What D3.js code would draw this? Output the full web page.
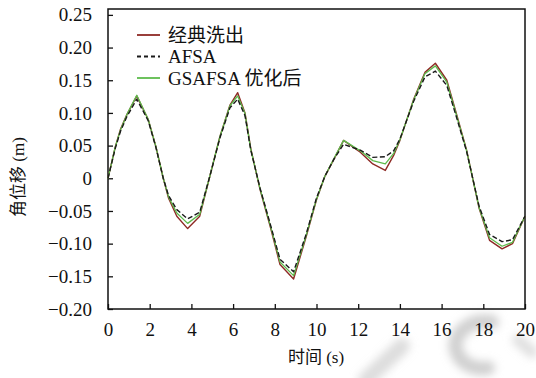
<!DOCTYPE html>
<html>
<head>
<meta charset="utf-8">
<script src="https://cdn.jsdelivr.net/npm/d3@7"></script>
<style>
  html, body { margin: 0; padding: 0; background: #fff; }
  svg { display: block; }
</style>
</head>
<body>
<svg id="chart" width="536" height="378"></svg>
<script>
// Sample times (s)
const time = [0, 0.35, 0.6, 0.9, 1.38, 1.93, 2.3, 2.65, 2.9, 3.3, 3.82, 4.4, 4.9, 5.37, 5.85, 6.22, 6.57, 6.85, 7.3, 7.8, 8.25, 8.9, 9.5, 10.0, 10.4, 10.85, 11.3, 12.1, 12.7, 13.3, 13.7, 14.0, 14.65, 15.2, 15.7, 16.25, 16.7, 17.2, 17.8, 18.3, 18.9, 19.4, 20];

// Angular displacement (m) for each washout algorithm
const classic = [0, 0.048, 0.075, 0.097, 0.126, 0.090, 0.048, 0.000, -0.030, -0.058, -0.077, -0.058, 0.005, 0.064, 0.112, 0.131, 0.100, 0.045, -0.018, -0.076, -0.132, -0.154, -0.090, -0.033, 0.003, 0.030, 0.058, 0.040, 0.022, 0.012, 0.035, 0.058, 0.120, 0.162, 0.176, 0.150, 0.100, 0.043, -0.046, -0.095, -0.108, -0.100, -0.058];
const afsa    = [0, 0.046, 0.072, 0.094, 0.121, 0.088, 0.047, 0.000, -0.026, -0.048, -0.062, -0.052, 0.005, 0.062, 0.108, 0.121, 0.096, 0.043, -0.016, -0.072, -0.124, -0.143, -0.086, -0.030, 0.003, 0.030, 0.052, 0.043, 0.032, 0.033, 0.042, 0.060, 0.117, 0.155, 0.164, 0.142, 0.095, 0.041, -0.043, -0.086, -0.097, -0.094, -0.058];
const gsafsa  = [0, 0.048, 0.074, 0.097, 0.127, 0.090, 0.048, 0.000, -0.028, -0.053, -0.069, -0.055, 0.005, 0.064, 0.111, 0.126, 0.099, 0.044, -0.017, -0.074, -0.128, -0.149, -0.088, -0.032, 0.003, 0.031, 0.058, 0.042, 0.027, 0.022, 0.038, 0.059, 0.119, 0.160, 0.172, 0.147, 0.098, 0.042, -0.045, -0.091, -0.104, -0.098, -0.058];

const seriesNames = ["经典洗出", "AFSA", "GSAFSA 优化后"];
const xTicks = [0, 2, 4, 6, 8, 10, 12, 14, 16, 18, 20];
const yTicks = [-0.20, -0.15, -0.10, -0.05, 0, 0.05, 0.10, 0.15, 0.20, 0.25];

const LATIN = "Times New Roman";
const CJK = "Noto Sans CJK SC";

// Fill a text node with runs: CJK characters in the CJK face, the rest in the serif face
function mixedText(sel, str) {
  const runs = str.match(/[\u3400-\u9fff]+|[^\u3400-\u9fff]+/g) || [];
  runs.forEach(r => {
    const isCjk = /[\u3400-\u9fff]/.test(r);
    sel.append("tspan").style("font-family", isCjk ? CJK : LATIN).text(r);
  });
  return sel;
}

const svg = d3.select("#chart");
const plot = { left: 108, right: 525, top: 9, bottom: 309 };

// Soft background watermark strokes in the lower right corner
const defs = svg.append("defs");
defs.append("filter").attr("id", "soft")
  .attr("x", "-50%").attr("y", "-50%").attr("width", "200%").attr("height", "200%")
  .append("feGaussianBlur").attr("stdDeviation", 4);
const wm = svg.append("g").attr("filter", "url(#soft)").attr("fill", "none")
  .attr("stroke-linecap", "round");
wm.append("path").attr("d", "M366,380 L402,346").attr("stroke", "#cfcfcf").attr("stroke-width", 16).attr("opacity", 0.7);
wm.append("path").attr("d", "M492,322 C470,318 452,334 456,350 C460,364 474,370 488,368")
  .attr("stroke", "#c4c4c4").attr("stroke-width", 14).attr("opacity", 0.8);
wm.append("path").attr("d", "M518,340 L532,352").attr("stroke", "#d2d2d2").attr("stroke-width", 12).attr("opacity", 0.7);

const x = d3.scaleLinear().domain([0, 20]).range([plot.left, plot.right]);
const y = d3.scaleLinear().domain([-0.2, 0.259]).range([plot.bottom, plot.top]);

// Axes with inward ticks
const fmtY = v => (Math.abs(v) < 1e-9 ? "0" : d3.format(".2f")(v));
const yAxis = svg.append("g").attr("transform", `translate(${plot.left},0)`)
  .call(d3.axisLeft(y).tickValues(yTicks).tickSize(-5).tickPadding(16).tickFormat(fmtY));
const xAxis = svg.append("g").attr("transform", `translate(0,${plot.bottom})`)
  .call(d3.axisBottom(x).tickValues(xTicks).tickSize(-5).tickPadding(14).tickFormat(d3.format("d")));
[yAxis, xAxis].forEach(a => {
  a.attr("font-family", null).attr("font-size", null);
  a.select(".domain").remove();
  a.selectAll(".tick line").attr("stroke", "#111").attr("stroke-width", 1.3);
  a.selectAll("text").attr("fill", "#111")
    .style("font-family", LATIN).style("font-size", "19px");
});

// Frame around plotting area
svg.append("rect")
  .attr("x", plot.left).attr("y", plot.top)
  .attr("width", plot.right - plot.left).attr("height", plot.bottom - plot.top)
  .attr("fill", "none").attr("stroke", "#111").attr("stroke-width", 1.5);

// Series lines
const line = d3.line().x((d, i) => x(time[i])).y(d => y(d)).curve(d3.curveLinear);
const series = [
  { name: seriesNames[0], values: classic, color: "#8e2a25", dash: null, width: 1.4 },
  { name: seriesNames[1], values: afsa,    color: "#1a1a1a", dash: "5,2.5", width: 1.4 },
  { name: seriesNames[2], values: gsafsa,  color: "#5dbb4c", dash: null, width: 1.3 }
];
const drawOrder = [series[0], series[2], series[1]];
svg.append("g").selectAll("path").data(drawOrder).join("path")
  .attr("d", s => line(s.values))
  .attr("fill", "none")
  .attr("stroke", s => s.color)
  .attr("stroke-width", s => s.width)
  .attr("stroke-dasharray", s => s.dash)
  .attr("stroke-linejoin", "round");

// Legend
const legend = svg.append("g");
series.forEach((s, i) => {
  const ly = 35 + i * 21.5;
  legend.append("line")
    .attr("x1", 137).attr("x2", 160).attr("y1", ly).attr("y2", ly)
    .attr("stroke", s.color).attr("stroke-width", 1.8)
    .attr("stroke-dasharray", s.dash ? "4,3" : null);
  const t = legend.append("text")
    .attr("x", 168).attr("y", ly).attr("dy", "0.35em")
    .attr("fill", "#111").style("font-family", LATIN).style("font-size", "19px");
  mixedText(t, s.name);
});

// Axis titles
const yTitle = svg.append("text")
  .attr("transform", "translate(24,177) rotate(-90)")
  .attr("text-anchor", "middle").attr("fill", "#111")
  .style("font-family", LATIN).style("font-size", "17px");
mixedText(yTitle, "角位移 (m)");
const xTitle = svg.append("text")
  .attr("x", 316).attr("y", 363)
  .attr("text-anchor", "middle").attr("fill", "#111")
  .style("font-family", LATIN).style("font-size", "17px");
mixedText(xTitle, "时间 (s)");
</script>
</body>
</html>
